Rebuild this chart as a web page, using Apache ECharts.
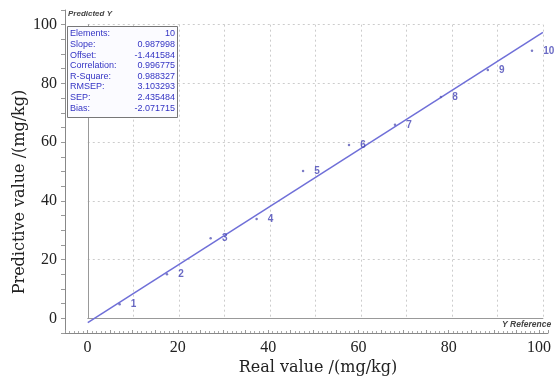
<!DOCTYPE html>
<html>
<head>
<meta charset="utf-8">
<script src="https://cdn.jsdelivr.net/npm/echarts@6/dist/echarts.min.js"></script>
<style>html,body{margin:0;padding:0;background:#fff;}#c{width:554px;height:378px;}</style>
</head>
<body>
<div id="c"></div>
<script>
// ---- data ----
const pointLabels = ['1','2','3','4','5','6','7','8','9','10'];
const realValues = [7.0, 17.4, 27.0, 37.1, 47.3, 57.4, 67.5, 77.6, 87.9, 97.6];
const predictedValues = [4.8, 15.0, 27.3, 33.8, 50.2, 59.0, 65.9, 75.4, 84.6, 91.1];
const fitLineX = [0, 100];
const fitLineY = [-1.44, 97.36];
const xTickLabels = [0, 20, 40, 60, 80, 100];
const yTickLabels = [0, 20, 40, 60, 80, 100];
const statNames = ['Elements:', 'Slope:', 'Offset:', 'Correlation:', 'R-Square:', 'RMSEP:', 'SEP:', 'Bias:'];
const statValues = ['10', '0.987998', '-1.441584', '0.996775', '0.988327', '3.103293', '2.435484', '-2.071715'];
const xTitle = 'Real value /(mg/kg)';
const yTitle = 'Predictive value /(mg/kg)';

// ---- layout ----
const W = 554, H = 378;
const oLeft = 65, oRight = 2, oTop = 10, oBottom = 45;
const oxMin = -5, oxMax = 102, oyMin = -5, oyMax = 105;
const pxX = (W - oLeft - oRight) / (oxMax - oxMin);
const pxY = (H - oTop - oBottom) / (oyMax - oyMin);
const iLeft = oLeft + (0 - oxMin) * pxX;
const iRight = oRight + (oxMax - 100) * pxX;
const iTop = oTop + (oyMax - 100) * pxY;
const iBottom = oBottom + (0 - oyMin) * pxY;

const blue = '#3434c4';
const serif = 'DejaVu Serif';
const tickFont = 'Liberation Serif';
const boxFont = '9px "Liberation Sans Narrow", Arial, sans-serif';

const chart = echarts.init(document.getElementById('c'), null, {renderer: 'canvas'});

const graphicEls = [];
graphicEls.push({type: 'text', left: 68, top: 10, style: {text: 'Predicted Y', font: 'italic bold 8px Arial, sans-serif', fill: '#444'}});
graphicEls.push({type: 'rect', shape: {x: 67.5, y: 26.5, width: 110, height: 91}, style: {fill: '#fbfbff', stroke: '#777', lineWidth: 1}, z: 10});
statNames.forEach((n, i) => {
  graphicEls.push({type: 'text', x: 70, y: 29.5 + i * 10.6, style: {text: n, font: boxFont, fill: blue}, z: 11});
  graphicEls.push({type: 'text', x: 175, y: 29.5 + i * 10.6, style: {text: statValues[i], font: boxFont, fill: blue, textAlign: 'right'}, z: 11});
});
graphicEls.push({type: 'text', left: 502, top: 320, style: {text: 'Y Reference', font: 'italic bold 8.5px Arial, sans-serif', fill: '#444'}});
graphicEls.push({type: 'text', x: 20, y: 192, rotation: Math.PI / 2,
  style: {text: yTitle, font: '16px "DejaVu Serif", serif', fill: '#222', textAlign: 'center', textVerticalAlign: 'middle'}});
graphicEls.push({type: 'text', x: 318, y: 368,
  style: {text: xTitle, font: '16px "DejaVu Serif", serif', fill: '#222', textAlign: 'center', textVerticalAlign: 'middle'}});

chart.setOption({
  animation: false,
  backgroundColor: '#fff',
  grid: [
    {left: oLeft, right: oRight, top: oTop, bottom: oBottom},
    {left: iLeft, right: iRight, top: iTop, bottom: iBottom}
  ],
  xAxis: [
    {
      gridIndex: 0, type: 'value', min: oxMin, max: oxMax, interval: 5,
      axisLine: {show: true, onZero: false, lineStyle: {color: '#888', width: 1}},
      axisTick: {show: true, inside: true, length: 3, lineStyle: {color: '#999'}},
      minorTick: {show: true, splitNumber: 5, length: 2, lineStyle: {color: '#aaa'}},
      splitLine: {show: false},
      axisLabel: {
        margin: 7, fontFamily: tickFont, fontSize: 16, color: '#222',
        formatter: v => (xTickLabels.indexOf(v) >= 0 ? String(v) : '')
      }
    },
    {
      gridIndex: 1, type: 'value', min: 0, max: 100, interval: 10,
      axisLine: {show: true, onZero: false, lineStyle: {color: '#999', width: 1}},
      axisTick: {show: false}, axisLabel: {show: false},
      splitLine: {show: true, lineStyle: {color: '#ccc', type: [2, 3], width: 1}}
    }
  ],
  yAxis: [
    {
      gridIndex: 0, type: 'value', min: oyMin, max: oyMax, interval: 5,
      axisLine: {show: true, onZero: false, lineStyle: {color: '#888', width: 1}},
      axisTick: {show: true, inside: false, length: 4, lineStyle: {color: '#999'}},
      splitLine: {show: false},
      axisLabel: {
        margin: 8, fontFamily: tickFont, fontSize: 16, color: '#222', padding: [4, 0, 0, 0],
        formatter: v => (yTickLabels.indexOf(v) >= 0 ? String(v) : '')
      }
    },
    {
      gridIndex: 1, type: 'value', min: 0, max: 100, interval: 20,
      axisLine: {show: true, onZero: false, lineStyle: {color: '#999', width: 1}},
      axisTick: {show: false}, axisLabel: {show: false},
      splitLine: {show: true, lineStyle: {color: '#ccc', type: [2, 3], width: 1}}
    }
  ],
  graphic: graphicEls,
  series: [
    {
      type: 'line', xAxisIndex: 1, yAxisIndex: 1, clip: false,
      data: fitLineX.map((x, i) => [x, fitLineY[i]]),
      symbol: 'none', lineStyle: {color: '#6f6fd8', width: 1.5}, z: 3
    },
    {
      type: 'scatter', xAxisIndex: 1, yAxisIndex: 1,
      data: realValues.map((x, i) => [x, predictedValues[i], pointLabels[i]]),
      symbol: 'circle', symbolSize: 2.5,
      itemStyle: {color: '#5a5ab8'},
      label: {
        show: true, position: 'right', distance: 10,
        formatter: p => p.data[2],
        fontFamily: 'Arial, sans-serif', fontSize: 10, fontWeight: 'bold', color: '#4545b5'
      },
      z: 4
    }
  ]
});
</script>
</body>
</html>
